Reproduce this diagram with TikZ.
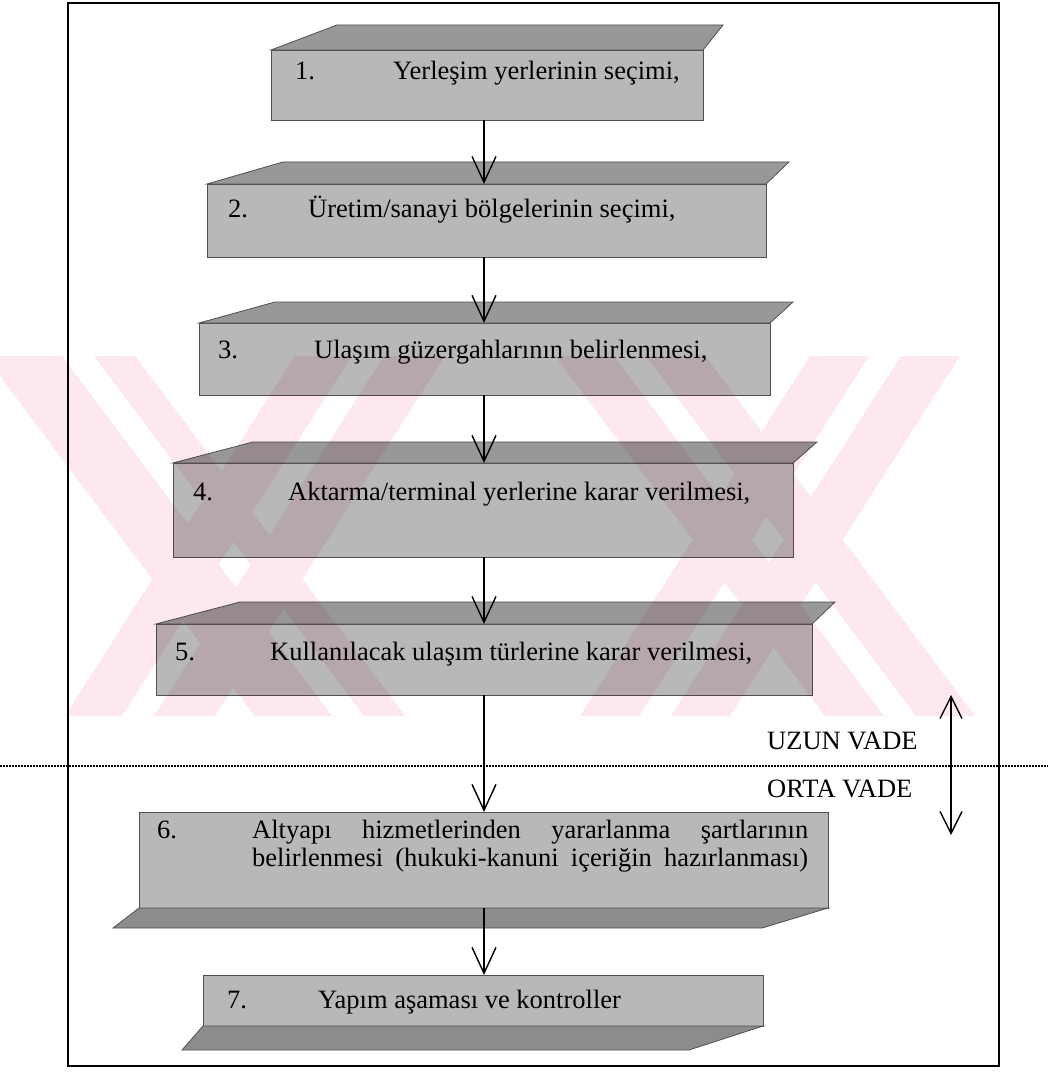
\documentclass[tikz,border=0pt]{standalone}
\usepackage{fontspec}
\setmainfont{Liberation Serif}
\usetikzlibrary{arrows.meta,calc}

\definecolor{frontgray}{RGB}{184,184,184}
\definecolor{topgray}{RGB}{152,152,152}
\definecolor{bevelgray}{RGB}{140,140,140}
\definecolor{edgegray}{RGB}{80,80,80}
\definecolor{markpink}{RGB}{252,232,238}

\tikzset{
  front/.style={draw=edgegray, line width=0.8pt, fill=frontgray, inner sep=0pt, outer sep=0pt},
  topface/.style={draw=edgegray, line width=0.8pt, fill=topgray},
  bevel/.style={draw=edgegray, line width=0.8pt, fill=bevelgray},
  label/.style={anchor=base west, inner sep=0pt, font=\fontsize{26.5}{28}\selectfont},
  flow/.style={line width=1.4pt, -{Straight Barb[length=26pt, width=24pt, line width=1.4pt]}},
  span/.style={line width=1.4pt, {Straight Barb[length=22pt, width=22pt, line width=1.4pt]}-{Straight Barb[length=22pt, width=22pt, line width=1.4pt]}},
  tint/.style={fill=markpink, draw=none, nonzero rule, blend mode=multiply},
}

% raised box: front face node plus a slanted top face
\newcommand{\topbox}[8]{% name, cx, cy, w, h, left shift, right shift, depth
  \node[front, minimum width=#4pt, minimum height=#5pt] (#1) at (#2,#3) {};
  \filldraw[topface] (#1.north west) -- ++(#6,-#8) -- ($(#1.north east)+(#7,-#8)$) -- (#1.north east) -- cycle;
}
% box with a bevel under its front face
\newcommand{\bevelbox}[8]{% name, cx, cy, w, h, left shift, right shift, depth
  \node[front, minimum width=#4pt, minimum height=#5pt] (#1) at (#2,#3) {};
  \filldraw[bevel] (#1.south west) -- ++(#6,#8) -- ($(#1.south east)+(#7,#8)$) -- (#1.south east) -- cycle;
}
% slanted strips of the background mark, running from y=356 to y=716
\newcommand{\strip}[4]{(#1,356) -- (#2,356) -- (#3,716) -- (#4,716) -- cycle}
\newcommand{\slit}[4]{(#1,356) -- (#4,716) -- (#3,716) -- (#2,356) -- cycle}

\begin{document}
\begin{tikzpicture}[x=1pt, y=-1pt]
\useasboundingbox (0,0) rectangle (1048,1091);
\fill[white] (0,0) rectangle (1048,1091);

% outer frame and the dotted time divider
\draw[line width=2pt] (68,3) rectangle (999,1066);
\draw[line width=2.2pt, dash pattern=on 1.5pt off 1.5pt] (0,766) -- (1048,766);

% steps
\topbox{b1}{487}{85}{432}{70}{66}{20}{25}
\topbox{b2}{486.5}{220.5}{559}{73}{76}{23}{22}
\topbox{b3}{484.5}{359}{571}{72}{76}{23}{21}
\topbox{b4}{483}{510}{620}{94}{80}{24}{21}
\topbox{b5}{484}{659.5}{656}{71}{84}{23}{22}
\bevelbox{b6}{483.5}{860}{689}{96}{-26}{-66}{20}
\bevelbox{b7}{483}{1000.5}{560}{51}{-21}{-74}{24}

% faint background mark: one path, so crossings are not tinted twice
\fill[tint]
  \strip{-15}{135}{405}{255}
  \strip{295}{445}{215}{65}
  \strip{555}{705}{975}{825}
  \strip{810}{960}{730}{580}
  \slit{62}{94}{364}{332}
  \slit{352}{384}{154}{122}
  \slit{614}{646}{916}{884}
  \slit{869}{901}{671}{639};

\node[label] (n1) at (295,80) {1.};
\node[label] (t1) at (393,80) {Yerleşim yerlerinin seçimi,};
\node[label] (n2) at (228,218) {2.};
\node[label] (t2) at (308,218) {Üretim/sanayi bölgelerinin seçimi,};
\node[label] (n3) at (218,358) {3.};
\node[label] (t3) at (314,358) {Ulaşım güzergahlarının belirlenmesi,};
\node[label] (n4) at (193,500) {4.};
\node[label] (t4) at (288,500) {Aktarma/terminal yerlerine karar verilmesi,};
\node[label] (n5) at (175,660) {5.};
\node[label] (t5) at (270,660) {Kullanılacak ulaşım türlerine karar verilmesi,};
\node[label] (n6) at (157,838) {6.};
\node[label] (t6a) at (252,838) {\makebox[556pt][s]{Altyapı hizmetlerinden yararlanma şartlarının}};
\node[label] (t6b) at (252,866) {\makebox[556pt][s]{belirlenmesi (hukuki-kanuni içeriğin hazırlanması)}};
\node[label] (n7) at (227,1008) {7.};
\node[label] (t7) at (318,1008) {Yapım aşaması ve kontroller};

% horizon labels and their span arrow
\node[label] (uzun) at (767,749) {UZUN VADE};
\node[label] (orta) at (767,797) {ORTA VADE};
\coordinate (spantop) at (951,695);
\coordinate (spanbot) at (951,835);
\draw[span] (spantop) -- (spanbot);

% flow arrows along the common axis
\coordinate (ax) at (484,0);
\draw[flow] (b1.south -| ax) -- (b2.north -| ax);
\draw[flow] (b2.south -| ax) -- (b3.north -| ax);
\draw[flow] (b3.south -| ax) -- (b4.north -| ax);
\draw[flow] (b4.south -| ax) -- (b5.north -| ax);
\draw[flow] (b5.south -| ax) -- (b6.north -| ax);
\draw[flow] (b6.south -| ax) -- (b7.north -| ax);
\end{tikzpicture}
\end{document}
